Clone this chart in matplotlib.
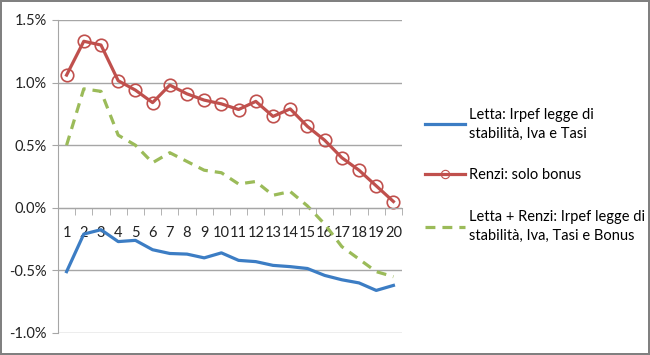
import matplotlib
matplotlib.use("Agg")
import matplotlib.pyplot as plt
from matplotlib.ticker import FixedLocator, FuncFormatter

plt.rcParams["font.family"] = ["Lato", "DejaVu Sans"]

# data, in percent
periods = list(range(1, 21))
letta = [-0.51, -0.21, -0.175, -0.27, -0.26, -0.335, -0.365, -0.37, -0.40, -0.36,
         -0.42, -0.43, -0.46, -0.47, -0.485, -0.54, -0.575, -0.60, -0.66, -0.62]
renzi = [1.06, 1.33, 1.30, 1.015, 0.94, 0.84, 0.98, 0.91, 0.86, 0.83,
         0.785, 0.85, 0.73, 0.79, 0.65, 0.54, 0.40, 0.30, 0.175, 0.05]
letta_renzi = [0.50, 0.95, 0.93, 0.58, 0.50, 0.36, 0.44, 0.37, 0.30, 0.28,
               0.19, 0.21, 0.10, 0.13, 0.015, -0.13, -0.31, -0.41, -0.51, -0.55]

labels = ["Letta: Irpef legge di\nstabilità, Iva e Tasi",
          "Renzi: solo bonus",
          "Letta + Renzi: Irpef legge di\nstabilità, Iva, Tasi e Bonus"]

blue = "#3C7DC4"
red = "#C0504D"
green = "#9BBB59"
gray = "#A6A6A6"

fig = plt.figure(figsize=(6.5, 3.55), dpi=100, edgecolor="#808080", linewidth=1.5)
ax = fig.add_axes([0.0892, 0.062, 0.5293, 0.8817])

ax.plot(periods, letta, color=blue, lw=2.3, label=labels[0])
ax.plot(periods, renzi, color=red, lw=2.3, marker="o", ms=9, mfc="none",
        mec=red, mew=1.2, label=labels[1])
ax.plot(periods, letta_renzi, color=green, lw=2.3, dashes=(3.1, 2.2), label=labels[2])

ax.set_xlim(0.5, 20.5)
ax.set_ylim(-1.0, 1.5)
ax.set_yticks([-1.0, -0.5, 0.0, 0.5, 1.0, 1.5])
ax.yaxis.set_major_formatter(FuncFormatter(lambda v, p: f"{v:.1f}%"))
ax.yaxis.grid(True, color=gray, lw=1.0)
ax.set_axisbelow(True)

# category axis crossing at zero
ax.spines["bottom"].set_position(("data", 0))
ax.spines["bottom"].set_color(gray)
ax.spines["left"].set_color(gray)
ax.spines["top"].set_visible(False)
ax.spines["right"].set_visible(False)
ax.set_xticks(periods)
ax.xaxis.set_minor_locator(FixedLocator([i + 0.5 for i in range(0, 21)]))
ax.tick_params(axis="x", which="major", length=0, pad=13, labelsize=10.5, colors="#222222")
ax.tick_params(axis="x", which="minor", length=5, color=gray, direction="out")
ax.tick_params(axis="y", length=4, color=gray, labelsize=10.5, labelcolor="#222222", pad=4)

leg = ax.legend(loc="upper left", bbox_to_anchor=(1.067, 0.72), frameon=False, fontsize=10.5,
                handlelength=2.75, handletextpad=0.25, labelspacing=1.9, borderaxespad=0,
                borderpad=0)
for t in leg.get_texts():
    t.set_linespacing(1.45)
leg.legend_handles[1].set_markersize(6)
leg.legend_handles[1].set_markeredgewidth(0.8)

fig.savefig("out.png", dpi=100)
